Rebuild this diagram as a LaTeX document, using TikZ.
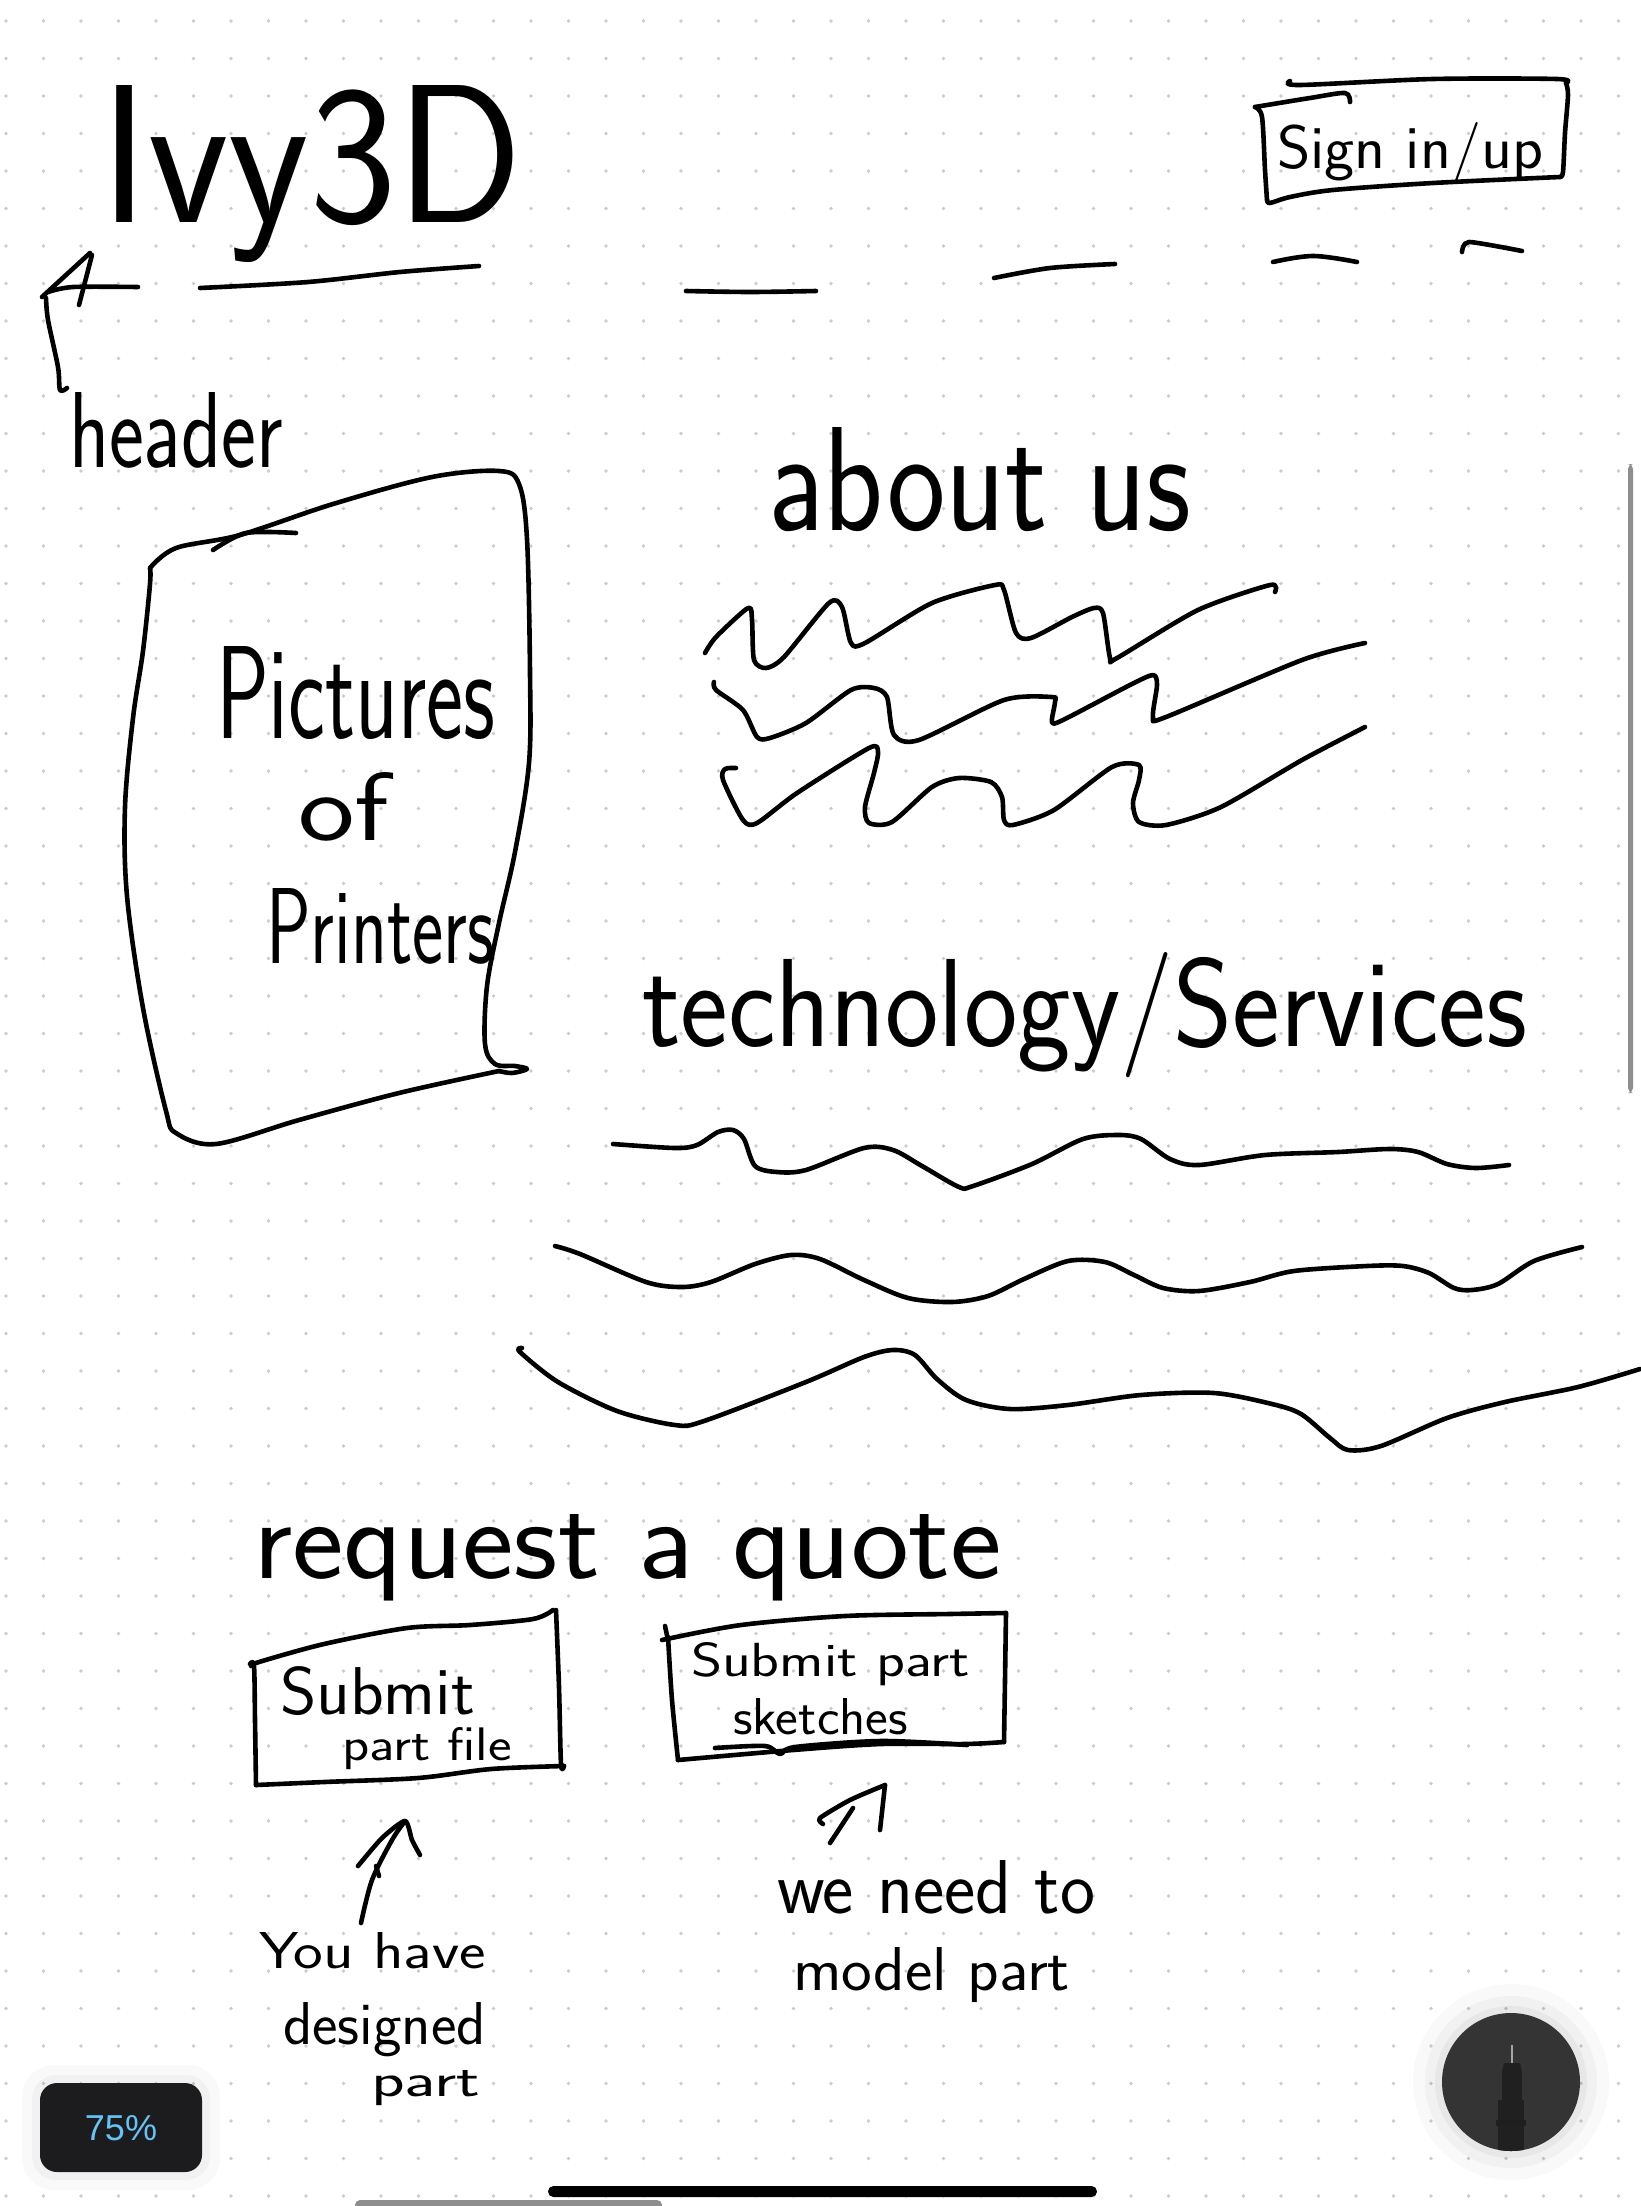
\documentclass[tikz,border=0pt]{standalone}
\usepackage{graphicx}
\usepackage{fontspec}
\newfontfamily\handfam{Latin Modern Sans}
\newcommand{\hand}{\handfam\fontsize{40}{48}\selectfont}
\newfontfamily\uifont{Liberation Sans}
\newcommand{\hw}[3]{\resizebox{#1pt}{#2pt}{\hand #3}}
\definecolor{dotc}{RGB}{204,204,204}
\definecolor{uidark}{RGB}{28,28,30}
\definecolor{uiblue}{RGB}{100,196,245}
\definecolor{penbg}{RGB}{52,52,52}
\definecolor{penbody}{RGB}{32,32,32}
\definecolor{scrollc}{RGB}{142,142,142}
\begin{document}
\begin{tikzpicture}[x=0.5pt,y=-0.5pt,
  pen/.style={line width=2.3pt,line cap=round,line join=round,black},
  txt/.style={anchor=base west,inner sep=0pt,outer sep=0pt,black},
  wave/.style={pen},
]
\useasboundingbox (0,0) rectangle (1640,2206);
\fill[white] (0,0) rectangle (1640,2206);
% dot grid
\foreach \i in {0,...,43}{
  \foreach \j in {0,...,58}{
    \fill[dotc] ({6+37.5*\i},{21+37.5*\j}) circle (1.8);
  }
}

% ---------- title and header ----------
\node[txt] (ivy) at (100,222) {\hw{211.5}{68.5}{Ivy3D}};
\draw[pen] (90,253) -- (42,297);
\draw[pen] (92,255) .. controls (86,280) .. (79,305);
\draw[pen] plot[smooth,tension=0.5] coordinates {(48,292) (73,287) (138,287)};
\draw[pen] plot[smooth,tension=0.5] coordinates {(200,288) (308,282) (400,272) (479,266)};
\node[txt] (header) at (69,467) {\hw{107}{37.5}{header}};
\coordinate (hdtip) at (46,298);
\draw[pen] plot[smooth,tension=0.5] coordinates {(67,388) (60,390) (58,367) (48,320) (46,298)};
% header menu dashes
\draw[pen] plot[smooth,tension=0.5] coordinates {(686,291) (750,292) (816,291)};
\draw[pen] plot[smooth,tension=0.5] coordinates {(994,278) (1050,268) (1115,264)};
\draw[pen] plot[smooth,tension=0.6] coordinates {(1273,262) (1313,256) (1357,262)};
\draw[pen] plot[smooth,tension=0.4] coordinates {(1462,252) (1469,242) (1522,251)};

% ---------- sign in box ----------
\node[txt] (sign) at (1277,168) {\hw{133}{23}{Sign in/up}};
\draw[pen] plot[smooth,tension=0.5] coordinates {(1290,81) (1300,85) (1433,79) (1557,79) (1566,83)};
\draw[pen] plot[smooth,tension=0.5] coordinates {(1566,83) (1568,95) (1565,133) (1563,172) (1560,177)};
\draw[pen] plot[smooth,tension=0.5] coordinates {(1560,177) (1433,183) (1333,190) (1290,197) (1270,203) (1267,200)};
\draw[pen] plot[smooth,tension=0.5] coordinates {(1267,200) (1265,170) (1262,117) (1255,107)};
\draw[pen] plot[smooth,tension=0.5] coordinates {(1255,107) (1310,98) (1345,93) (1350,102)};

% ---------- pictures box ----------
\draw[pen] plot[smooth,tension=0.5] coordinates {(213,550) (246,533) (296,533)};
\draw[pen] plot[smooth,tension=0.55] coordinates {(150,568) (176,548) (240,535) (333,504) (432,477) (499,471) (519,484) (527,539) (530,673) (529,763) (515,852) (499,923) (487,986) (485,1044) (495,1064) (515,1066) (527,1069) (512,1073) (499,1071)};
\draw[pen] plot[smooth,tension=0.55] coordinates {(499,1071) (399,1093) (299,1120) (216,1144) (176,1133) (166,1111) (143,1008) (127,896) (125,807) (133,718) (143,651) (150,584) (150,568)};
\node[txt] (pic) at (216,738) {\hw{139.5}{46}{Pictures}};
\node[txt] (of) at (298,840) {\hw{45.5}{34}{of}};
\node[txt] (printers) at (266,963) {\hw{114}{37.5}{Printers}};

% ---------- about us ----------
\node[txt] (about) at (768,530) {\hw{211.5}{51.5}{about us}};
\draw[wave] plot[smooth,tension=0.45] coordinates {(705,653) (716,637) (748,608) (752,620) (754,660) (766,668) (784,657) (829,603) (842,607) (851,643) (865,643) (932,603) (995,585) (1004,590) (1016,633) (1031,638) (1072,617) (1094,608) (1103,613) (1110,658) (1117,658) (1198,610) (1270,585) (1275,592)};
\draw[wave] plot[smooth,tension=0.45] coordinates {(714,682) (716,690) (743,710) (757,737) (770,738) (806,723) (851,690) (874,688) (887,697) (894,735) (919,740) (1004,700) (1052,697) (1055,702) (1052,722) (1063,720) (1130,685) (1153,675) (1157,685) (1153,717) (1166,717) (1302,660) (1365,643)};
\draw[wave] plot[smooth,tension=0.45] coordinates {(736,768) (725,769) (723,780) (743,820) (757,823) (797,793) (869,748) (878,752) (874,773) (865,807) (869,823) (892,822) (932,787) (959,778) (991,782) (1002,797) (1004,820) (1013,825) (1054,810) (1112,767) (1139,765) (1139,780) (1133,803) (1139,822) (1166,825) (1221,807) (1302,760) (1365,727)};

% ---------- technology / services ----------
\node[txt] (tech) at (642,1046) {\hw{442.5}{47}{technology/Services}};
\draw[wave] plot[smooth,tension=0.5] coordinates {(613,1144) (675,1148) (697,1145) (718,1132) (733,1130) (744,1139) (755,1166) (777,1172) (806,1170) (864,1148) (893,1150) (922,1166) (959,1187) (973,1186) (1032,1164) (1083,1139) (1119,1135) (1141,1139) (1170,1159) (1199,1165) (1265,1155) (1338,1152) (1389,1149) (1418,1152) (1447,1164) (1476,1168) (1509,1165)};
\draw[wave] plot[smooth,tension=0.5] coordinates {(555,1246) (580,1254) (646,1282) (682,1287) (711,1282) (755,1264) (791,1255) (820,1259) (864,1280) (908,1298) (952,1302) (988,1296) (1024,1279) (1068,1261) (1105,1262) (1134,1275) (1163,1288) (1199,1291) (1250,1282) (1294,1271) (1367,1266) (1403,1266) (1429,1273) (1454,1288) (1472,1290) (1498,1284) (1534,1261) (1582,1247)};
\draw[wave] plot[smooth,tension=0.5] coordinates {(522,1348) (520,1352) (558,1382) (617,1411) (675,1425) (704,1421) (806,1382) (864,1357) (893,1350) (915,1355) (937,1379) (966,1400) (1010,1409) (1068,1405) (1141,1395) (1214,1393) (1272,1404) (1301,1414) (1330,1438) (1348,1450) (1381,1446) (1447,1418) (1505,1402) (1578,1387) (1640,1369)};

% ---------- request a quote ----------
\node[txt] (quote) at (253,1578) {\hw{374.5}{32}{request a quote}};

% box 1
\draw[pen] plot[smooth,tension=0.5] coordinates {(251,1666) (259,1662) (324,1644) (407,1628) (470,1625) (533,1619) (553,1610)};
\draw[pen] plot[smooth,tension=0.5] coordinates {(556,1610) (559,1687) (561,1764) (564,1766)};
\draw[pen] plot[smooth,tension=0.5] coordinates {(564,1766) (491,1769) (418,1778) (324,1782) (256,1785)};
\draw[pen] plot[smooth,tension=0.5] coordinates {(256,1785) (255,1720) (254,1666) (250,1664)};
\node[txt] (sub1) at (280,1714) {\hw{97.5}{24}{Submit}};
\node[txt] (file1) at (342,1760) {\hw{85}{16.5}{part file}};

% box 2
\draw[pen] (665,1626) -- (668,1640);
\draw[pen] plot[smooth,tension=0.5] coordinates {(662,1640) (741,1625) (845,1616) (949,1614) (1006,1613)};
\draw[pen] plot[smooth,tension=0.5] coordinates {(1006,1613) (1005,1680) (1004,1742)};
\draw[pen] plot[smooth,tension=0.5] coordinates {(1004,1742) (965,1744) (881,1744) (793,1750) (678,1760)};
\draw[pen] plot[smooth,tension=0.5] coordinates {(678,1760) (672,1700) (668,1637)};
\draw[pen] plot[smooth,tension=0.5] coordinates {(715,1748) (765,1746) (780,1754) (795,1747) (881,1741) (967,1745)};
\node[txt] (sub2) at (691,1676) {\hw{139.5}{17}{Submit part}};
\node[txt] (sk2) at (733,1734) {\hw{87.5}{18}{sketches}};

% arrow 1 and note
\node[txt] (have) at (259,1968) {\hw{113.5}{18}{You have}};
\node[txt] (desig) at (283,2044) {\hw{101.5}{21}{designed}};
\node[txt] (part1) at (371,2096) {\hw{54.5}{13}{part}};
\coordinate (a1tip) at (405,1821);
\draw[pen] plot[smooth,tension=0.5] coordinates {(361,1923) (372,1880) (392,1840) (405,1821)};
\draw[pen] plot[smooth,tension=0.4] coordinates {(358,1866) (382,1838) (405,1821) (412,1840) (420,1855)};
\draw[pen] (376,1866) -- (379,1876);

% arrow 2 and note
\node[txt] (need) at (777,1913) {\hw{159}{26.5}{we need to}};
\node[txt] (model) at (793,1990) {\hw{138.5}{21.5}{model part}};
\coordinate (a2tip) at (885,1785);
\draw[pen] (880,1830) -- (a2tip);
\draw[pen] plot[smooth,tension=0.4] coordinates {(a2tip) (850,1800) (820,1818) (823,1824)};
\draw[pen] (853,1808) -- (830,1843);

% ---------- UI chrome ----------
% scrollbar
\fill[scrollc,rounded corners=2.5pt] (1628,464) rectangle (1633,1093);
% zoom badge
\fill[black,opacity=0.025,rounded corners=16pt] (22,2065) rectangle (220,2190);
\fill[black,opacity=0.03,rounded corners=12pt] (32,2075) rectangle (210,2180);
\fill[uidark,rounded corners=8.5pt] (40,2083) rectangle (202,2172);
\node[inner sep=0pt,text=uiblue,font=\uifont\fontsize{18}{20}\selectfont] (zoom) at (121,2128) {75\%};
% pen button
\fill[black,opacity=0.025] (1511,2082) circle (98);
\fill[black,opacity=0.03] (1511,2082) circle (86);
\fill[black,opacity=0.04] (1511,2082) circle (76);
\fill[penbg] (1511,2082) circle (69);
\begin{scope}
  \clip (1511,2082) circle (69);
  \fill[penbody] (1498,2100) rectangle (1524,2160);
  \fill[black!88] (1496,2120) rectangle (1526,2126);
  \fill[penbody] (1502,2072) rectangle (1522,2100);
  \fill[penbody] (1504,2063) -- (1520,2063) -- (1522,2072) -- (1502,2072) -- cycle;
  \draw[gray!70,line width=0.8pt] (1512,2045) -- (1512,2063);
\end{scope}
% home indicator bars
\fill[black,rounded corners=2.7pt] (548,2186) rectangle (1097,2197);
\fill[scrollc,rounded corners=2.5pt] (355,2200) rectangle (662,2214);
\end{tikzpicture}
\end{document}
